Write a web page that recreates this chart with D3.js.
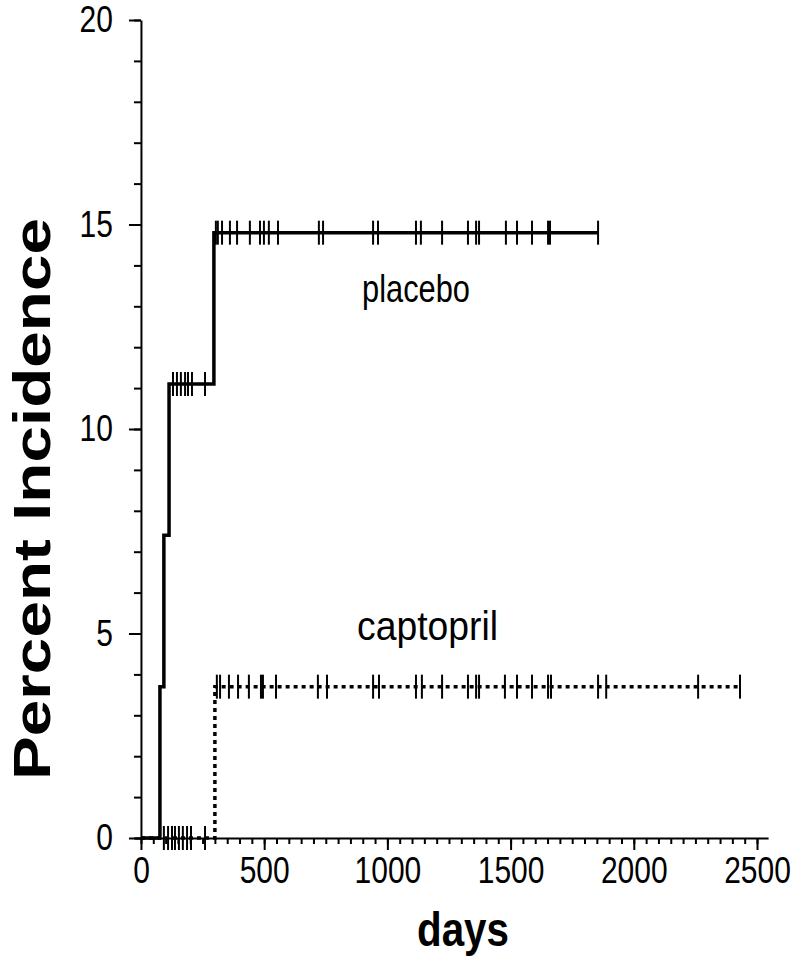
<!DOCTYPE html>
<html>
<head>
<meta charset="utf-8">
<script src="https://cdn.jsdelivr.net/npm/d3@7"></script>
<style>
  body { margin: 0; background: #fff; }
  text { font-family: "Liberation Sans", Arial, sans-serif; }
</style>
</head>
<body>
<div class="chart"></div>
<script>
// Data (days, percent incidence)
const placeboEventDays = [77, 93, 114, 296]
const placeboLevels = [3.7, 7.4, 11.1, 14.8]
const placeboCensorDays = [130, 146, 162, 179, 191, 207, 260,
    304, 312, 329, 361, 390, 442, 483, 499, 519, 556, 722, 739, 942, 962,
    1116, 1136, 1222, 1327, 1360, 1372, 1481, 1526, 1587, 1652, 1660, 1855]
const placeboLastDay = 1855

const captoprilEventDays = [300]
const captoprilLevels = [3.7]
const captoprilCensorDays = [93, 110, 126, 138, 154, 170, 187, 203, 260,
    308, 321, 357, 394, 438, 487, 495, 548, 718, 755, 942, 966,
    1116, 1140, 1222, 1327, 1360, 1372, 1477, 1526, 1587, 1652, 1664,
    1855, 1888, 2261, 2431]
const captoprilLastDay = 2431

const xMajorTicks = [0, 500, 1000, 1500, 2000, 2500]
const yMajorTicks = [0, 5, 10, 15, 20]

// Dimensions
const width = 800,
    height = 964

// The figure text is a bit taller than wide: font drawn big, then squeezed to its width
const squeeze = (sel, widthPx) => sel
    .attr('textLength', widthPx)
    .attr('lengthAdjust', 'spacingAndGlyphs')

const svg = d3.select('.chart')
    .append('svg')
    .attr('width', width)
    .attr('height', height)

// Scales
const x = d3.scaleLinear()
    .domain([-25, 2545])
    .range([134.8, 768.1])

const y = d3.scaleLinear()
    .domain([0, 20])
    .range([838, 20])

// Minor x ticks (every 50 days)
svg.append('g')
    .attr('transform', `translate(0, ${y(0)})`)
    .call(d3.axisBottom(x).tickValues(d3.range(0, 2550, 50)).tickSize(6).tickFormat(''))
    .call(g => g.select('.domain').remove())

// Major x axis
svg.append('g')
    .attr('class', 'x-axis')
    .attr('transform', `translate(0, ${y(0)})`)
    .call(d3.axisBottom(x).tickValues(xMajorTicks).tickSize(12).tickSizeOuter(0)
        .tickPadding(7).tickFormat(d3.format('d')))

// Minor y ticks (every 1 %)
svg.append('g')
    .attr('transform', `translate(${x(0)}, 0)`)
    .call(d3.axisLeft(y).tickValues(d3.range(0, 21, 1)).tickSize(7).tickFormat(''))
    .call(g => g.select('.domain').remove())

// Major y axis
svg.append('g')
    .attr('class', 'y-axis')
    .attr('transform', `translate(${x(0)}, 0)`)
    .call(d3.axisLeft(y).tickValues(yMajorTicks).tickSize(12).tickSizeOuter(0).tickPadding(16))

svg.selectAll('.x-axis path, .y-axis path')
    .attr('stroke', '#000')
    .attr('stroke-width', 2)
svg.selectAll('g line').attr('stroke-width', 2)
svg.selectAll('.x-axis text, .y-axis text')
    .attr('font-size', 37)
    .attr('font-family', '"Liberation Sans", Arial, sans-serif')
    .attr('fill', '#000')
    .each(function () { squeeze(d3.select(this), this.textContent.length * 0.556 * 30) })

// Step curve helpers
const stepPoints = (eventDays, levels, lastDay) => {
    const pts = [[0, 0]]
    eventDays.forEach((d, i) => pts.push([d, levels[i]]))
    pts.push([lastDay, levels[levels.length - 1]])
    return pts
}

const levelAt = (eventDays, levels, day) => {
    let lvl = 0
    eventDays.forEach((d, i) => { if (day >= d) lvl = levels[i] })
    return lvl
}

const line = d3.line()
    .x(d => x(d[0]))
    .y(d => y(d[1]))
    .curve(d3.curveStepAfter)

// Placebo curve (solid)
svg.append('path')
    .datum(stepPoints(placeboEventDays, placeboLevels, placeboLastDay))
    .attr('d', line)
    .attr('fill', 'none')
    .attr('stroke', '#000')
    .attr('stroke-width', 3.5)

// Captopril curve (dotted)
svg.append('path')
    .datum(stepPoints(captoprilEventDays, captoprilLevels, captoprilLastDay))
    .attr('d', line)
    .attr('fill', 'none')
    .attr('stroke', '#000')
    .attr('stroke-width', 3.5)
    .attr('stroke-dasharray', '4,4')

// Censor marks
const drawCensors = (days, eventDays, levels) => {
    svg.append('g')
        .selectAll('line')
        .data(days)
        .join('line')
        .attr('x1', d => x(d))
        .attr('x2', d => x(d))
        .attr('y1', d => y(levelAt(eventDays, levels, d)) - 12)
        .attr('y2', d => y(levelAt(eventDays, levels, d)) + 12)
        .attr('stroke', '#000')
        .attr('stroke-width', 2)
}
drawCensors(placeboCensorDays, placeboEventDays, placeboLevels)
drawCensors(captoprilCensorDays, captoprilEventDays, captoprilLevels)

// Group labels
svg.append('text')
    .attr('x', 362)
    .attr('y', 302)
    .attr('font-size', 39)
    .text('placebo')
    .call(squeeze, 108)

svg.append('text')
    .attr('x', 357)
    .attr('y', 640)
    .attr('font-size', 40)
    .text('captopril')
    .call(squeeze, 141)

// Axis titles
svg.append('text')
    .attr('transform', 'translate(50, 780) rotate(-90)')
    .attr('font-size', 52)
    .attr('font-weight', 'bold')
    .text('Percent Incidence')
    .call(squeeze, 562)

svg.append('text')
    .attr('x', 417)
    .attr('y', 946)
    .attr('font-size', 49)
    .attr('font-weight', 'bold')
    .text('days')
    .call(squeeze, 92)
</script>
</body>
</html>
